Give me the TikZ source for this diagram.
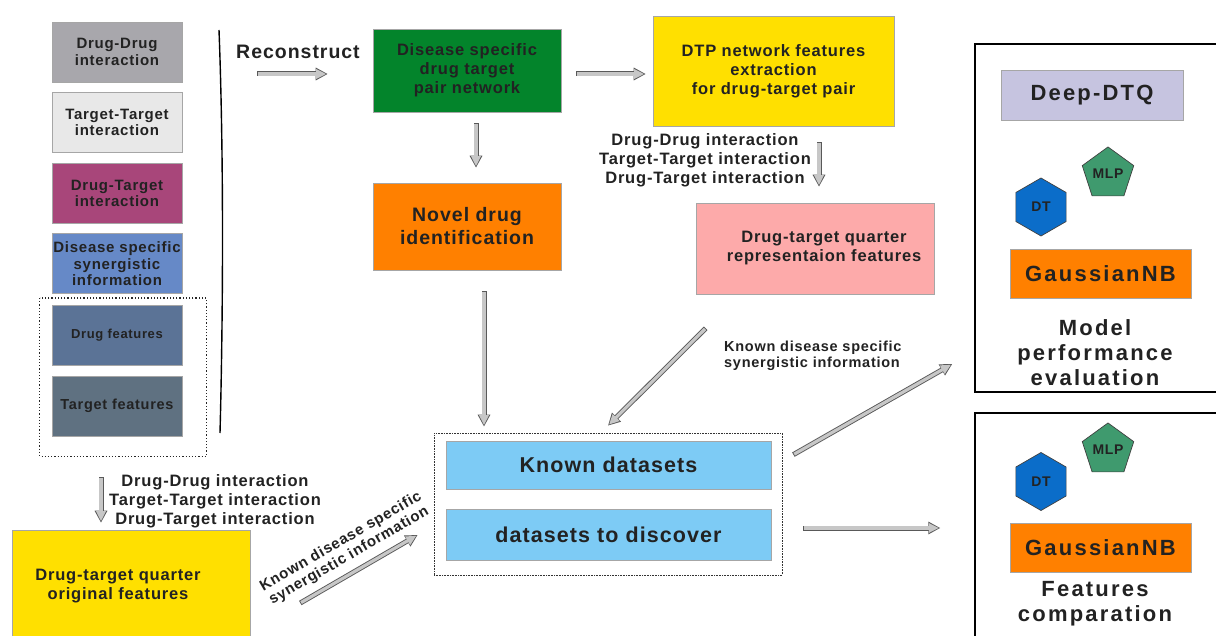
\documentclass[tikz,border=0pt]{standalone}
\usepackage{fontspec}
\setmainfont{Liberation Sans}[LetterSpace=5]
\newfontfamily\widefont{Liberation Sans}[LetterSpace=10]
\usetikzlibrary{positioning,calc,arrows.meta,shapes.geometric}

\definecolor{ddgray}{HTML}{A8A7AC}
\definecolor{ttgray}{HTML}{E8E8E8}
\definecolor{dtpurple}{HTML}{A8467A}
\definecolor{synblue}{HTML}{6689C7}
\definecolor{dfblue}{HTML}{5B7396}
\definecolor{tfslate}{HTML}{5F7181}
\definecolor{netgreen}{HTML}{03842B}
\definecolor{featyellow}{HTML}{FFE000}
\definecolor{novelorange}{HTML}{FF8000}
\definecolor{reppink}{HTML}{FDAAAA}
\definecolor{setblue}{HTML}{7DCBF5}
\definecolor{dtqlilac}{HTML}{C6C4E0}
\definecolor{mlpgreen}{HTML}{3F9A6E}
\definecolor{dtblue}{HTML}{0B6DC9}
\definecolor{inkgray}{HTML}{222222}

\tikzset{
  box/.style={draw=black!35, line width=0.6pt, text=inkgray, align=center, inner sep=0pt,
    font=\bfseries\fontsize{16.5}{19}\selectfont},
  lbox/.style={box, minimum width=130pt, minimum height=60pt, font=\bfseries\fontsize{15}{16.5}\selectfont},
  lbl/.style={text=inkgray, align=center, inner sep=0pt, font=\bfseries\fontsize{16.5}{19}\selectfont},
  bigtxt/.style={font=\widefont\bfseries\fontsize{22}{25}\selectfont},
  fat/.style={draw=black!65, line width=5pt, -{Triangle[length=12pt,width=12pt]},
    postaction={draw=black!22, line width=3.2pt, -{Triangle[length=10pt,width=9.2pt]},
      shorten >=1.5pt, shorten <=0.9pt}},
  dotbox/.style={draw=black!85, line width=1.2pt, dash pattern=on 1.2pt off 2pt},
  setframe/.style={draw=black!80, line width=0.8pt, dash pattern=on 0.8pt off 0.8pt, inner sep=0pt},
  panel/.style={draw=black, line width=1.5pt, inner sep=0pt},
  hexa/.style={regular polygon, regular polygon sides=6, shape border rotate=30, minimum size=58pt,
    inner sep=0pt, fill=dtblue, draw=black!75, line width=0.7pt, text=inkgray,
    font=\bfseries\fontsize{14}{16}\selectfont},
  penta/.style={regular polygon, regular polygon sides=5, minimum size=54pt,
    inner sep=0pt, fill=mlpgreen, draw=black!75, line width=0.7pt, text=inkgray,
    font=\bfseries\fontsize{14}{16}\selectfont}
}

\begin{document}
\begin{tikzpicture}[x=1pt, y=-1pt, node distance=10pt]
  \path[use as bounding box, fill=white] (0,0) rectangle (1216,636);

  % input data
  \node[lbox, fill=ddgray] (dd) at (117,52) {Drug-Drug\\interaction};
  \node[lbox, fill=ttgray, below=of dd] (tt) {Target-Target\\interaction};
  \node[lbox, fill=dtpurple, below=of tt] (dt) {Drug-Target\\interaction};
  \node[lbox, fill=synblue, below=of dt] (syn) {Disease specific\\synergistic\\information};
  \node[lbox, fill=dfblue, below=11pt of syn, font=\bfseries\fontsize{13}{15}\selectfont] (df) {Drug features};
  \node[lbox, fill=tfslate, below=of df, font=\bfseries\fontsize{14.5}{16}\selectfont] (tf) {Target features};
  \draw[dotbox] ($(df.north west)+(-12,-7)$) rectangle ($(tf.south east)+(24,20)$);
  \draw[line width=1.4pt] (219,30) .. controls (224,160) and (223,320) .. (220,433);

  \node[lbl, font=\bfseries\fontsize{19.5}{22}\selectfont] (recon) at (298,52) {Reconstruct};
  \coordinate (rc) at (257,74);

  % network and features
  \node[box, fill=netgreen, minimum width=188pt, minimum height=83pt] (net) at (467,70.5)
    {Disease specific\\drug target\\pair network};
  \node[box, fill=novelorange, minimum width=188pt, minimum height=87pt,
    font=\bfseries\fontsize{19.5}{23}\selectfont] (novel) at (467,226.5) {Novel drug\\identification};
  \node[box, fill=featyellow, minimum width=241pt, minimum height=110pt] (dtp) at (773.5,71)
    {DTP network features\\extraction\\for drug-target pair};
  \node[box, fill=reppink, minimum width=238pt, minimum height=91pt,
    label={[lbl, xshift=9pt]center:{Drug-target quarter\\representaion features}}] (rep) at (815,248.5) {};
  \node[lbl] (ints) at (705,160) {Drug-Drug interaction\\Target-Target interaction\\Drug-Target interaction};

  \node[box, fill=featyellow, minimum width=238pt, minimum height=112pt,
    label={[lbl, xshift=-13pt]center:{Drug-target quarter\\original features}}] (orig) at (131,586) {};
  \node[lbl] (ints2) at (215,501) {Drug-Drug interaction\\Target-Target interaction\\Drug-Target interaction};

  % datasets
  \node[setframe, minimum width=348pt, minimum height=142pt] (sets) at (608,504) {};
  \node[box, fill=setblue, minimum width=325pt, minimum height=48pt,
    font=\bfseries\fontsize{21.5}{24}\selectfont] (known) at (608.5,465) {Known datasets};
  \node[box, fill=setblue, minimum width=325pt, minimum height=51pt,
    font=\bfseries\fontsize{21.5}{24}\selectfont] (discover) at (608.5,534.5) {datasets to discover};
  \node[lbl, anchor=west, align=left, font=\bfseries\fontsize{14.5}{16.5}\selectfont] (known1) at (724,356)
    {Known disease specific\\synergistic information};
  \node[lbl, rotate=30, font=\bfseries\fontsize{15}{16.5}\selectfont] (known2) at (345,549)
    {Known disease specific\\synergistic information};

  % models
  \node[panel, minimum width=257pt, minimum height=348pt] (evalpanel) at (1103.5,218) {};
  \node[panel, minimum width=257pt, minimum height=237pt] (cmppanel) at (1103.5,531.5) {};
  \node[box, bigtxt, fill=dtqlilac, minimum width=182pt, minimum height=50pt] (dtq) at (1092,95) {Deep-DTQ};
  \node[penta] (mlp1) at (1108,174) {MLP};
  \node[hexa] (dt1) at (1041,207) {DT};
  \node[box, bigtxt, fill=novelorange, minimum width=181pt, minimum height=49pt] (gnb1) at (1100.5,273.5) {GaussianNB};
  \node[lbl, bigtxt] (evaltxt) at (1095,353) {Model\\performance\\evaluation};
  \node[penta] (mlp2) at (1108,450) {MLP};
  \node[hexa] (dt2) at (1041,481.5) {DT};
  \node[box, bigtxt, fill=novelorange, minimum width=181pt, minimum height=49pt] (gnb2) at (1100.5,547.5) {GaussianNB};
  \node[lbl, bigtxt] (cmptxt) at (1095,603.5) {Features\\comparation};

  % arrows
  \draw[fat] (rc) -- ($(rc -| net.west)+(-45,0)$);
  \draw[fat] ($(net.east |- rc)+(15,0)$) -- ($(dtp.west |- rc)+(-7,0)$);
  \draw[fat] ($(net.south)+(9,11)$) -- ($(novel.north)+(9,-15)$);
  \draw[fat] ($(dtp.south)+(45.5,16)$) -- ($(rep.north)+(4,-16)$);
  \draw[fat] ($(novel.south)+(17,21)$) -- ($(sets.north)+(-124,-6)$);
  \draw[fat] ($(rep.south west)+(10,34)$) -- ($(sets.north)+(0,-7)$);
  \draw[fat] ($(sets.north east)+(11,22)$) -- ($(evalpanel.west)+(-22,146)$);
  \draw[fat] ($(sets.east)+(21,24)$) -- ($(cmppanel.west)+(-34,-3.5)$);
  \draw[fat] ($(tf.south)+(-16,41)$) -- ($(orig.north)+(-30,-7)$);
  \draw[fat] ($(orig.east)+(50,17)$) -- ($(sets.west)+(-16,31)$);
\end{tikzpicture}
\end{document}
